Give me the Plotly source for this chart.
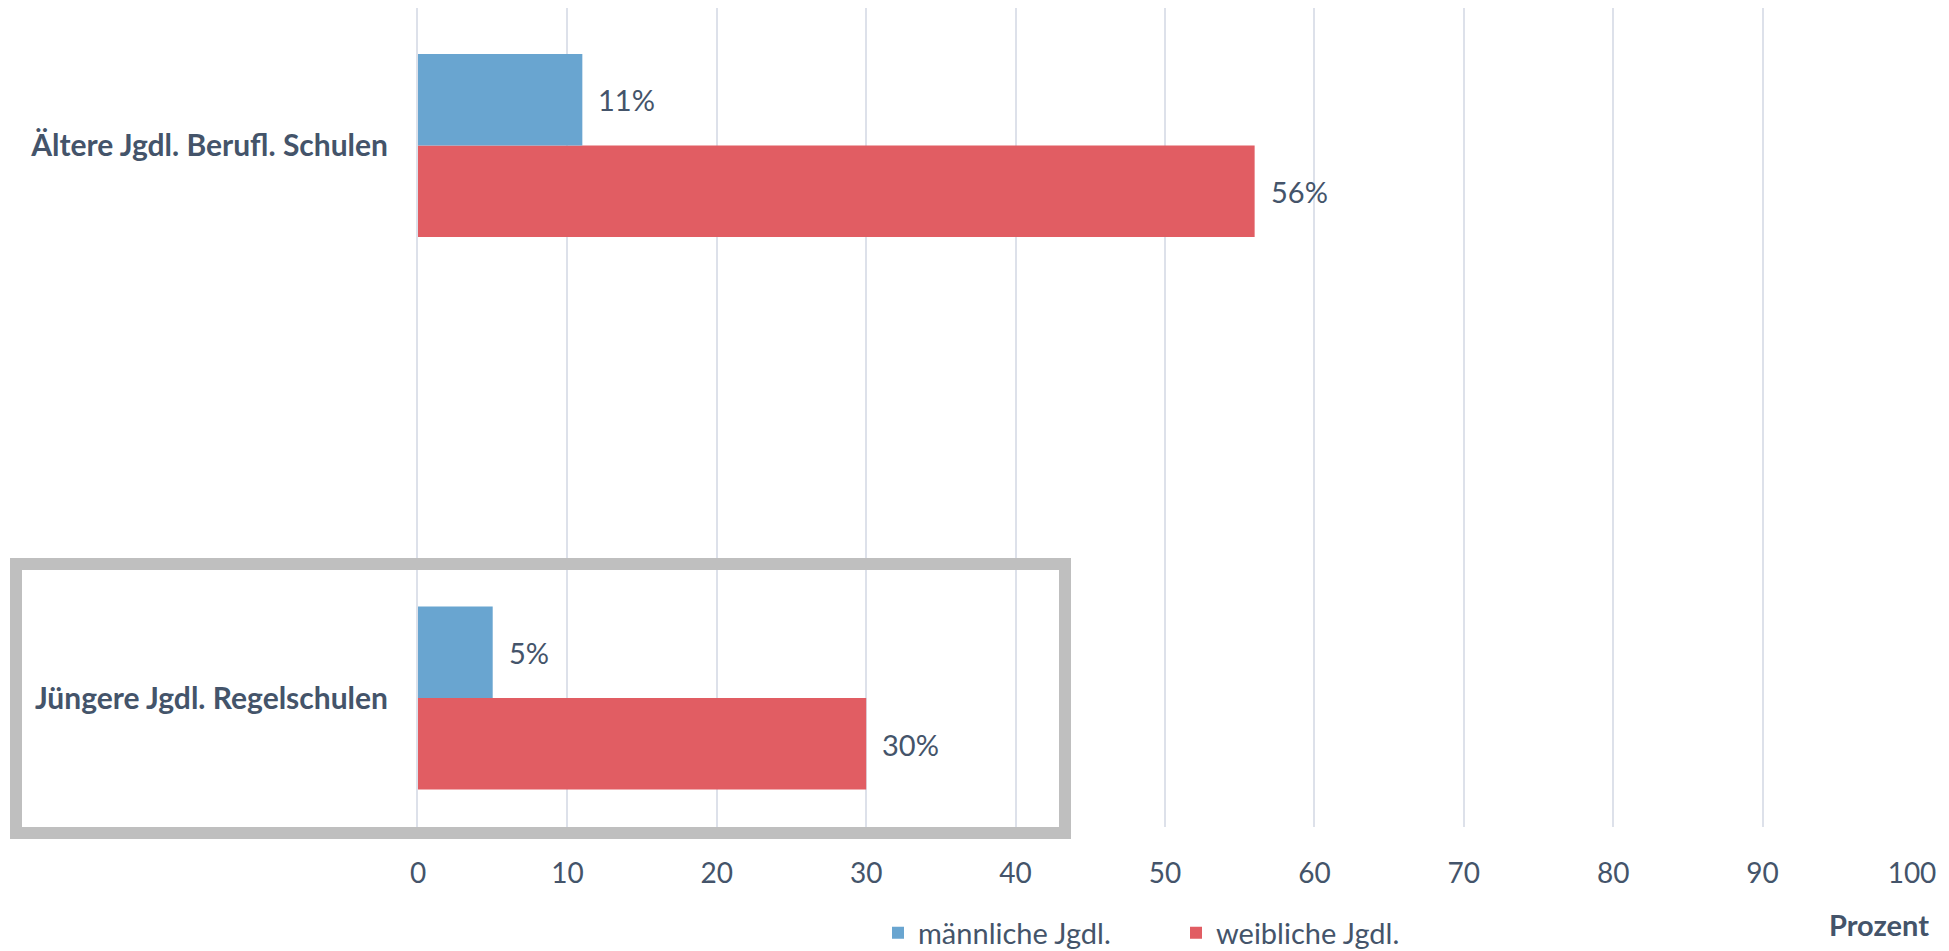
import plotly.graph_objects as go

categories = ["Jüngere Jgdl. Regelschulen", "Ältere Jgdl. Berufl. Schulen"]
series_names = ["männliche Jgdl.", "weibliche Jgdl."]
male = [5, 11]
female = [30, 56]
x_ticks = [0, 10, 20, 30, 40, 50, 60, 70, 80, 90, 100]
axis_title = "Prozent"

BLUE = "#69A5D0"
RED = "#E15D63"
TXT = "#44546A"
GRID = "#DDE1EA"
FONT = "Lato"

# the page body adds an 8px margin; the figure is sized to fit the window
OFF = 8
W, H = 1949 - OFF, 951 - OFF
ML, MR, MT, MB = 410, 37, 0, 124
pw = W - ML - MR
ph = H - MT - MB


def px(ref_x):
    return (ref_x - OFF - ML) / pw


def py(ref_y):
    return (H - MB - (ref_y - OFF)) / ph


fig = go.Figure()
fig.add_trace(go.Bar(y=categories, x=female, orientation="h", name=series_names[1],
                     marker=dict(color=RED, line=dict(width=0))))
fig.add_trace(go.Bar(y=categories, x=male, orientation="h", name=series_names[0],
                     marker=dict(color=BLUE, line=dict(width=0))))

# data labels
offset_px = 46
for vals, shift in ((male, offset_px), (female, -offset_px)):
    for c, v in zip(categories, vals):
        fig.add_annotation(x=v, y=c, text=f"{v}%", showarrow=False, xanchor="left",
                           yanchor="middle", xshift=14, yshift=shift,
                           font=dict(family=FONT, size=29, color=TXT))

fig.add_annotation(x=px(1931), y=py(924), xref="paper", yref="paper",
                   text=f"<b>{axis_title}</b>",
                   showarrow=False, xanchor="right", yanchor="middle",
                   font=dict(family=FONT, size=29, color=TXT))

fig.add_shape(type="rect", xref="paper", yref="paper",
              x0=px(16), x1=px(1065), y0=py(833), y1=py(564),
              line=dict(color="#BFBFBF", width=12), fillcolor="rgba(0,0,0,0)", layer="above")

fig.update_layout(
    width=W, height=H,
    margin=dict(l=ML, r=MR, t=MT, b=MB, pad=0, autoexpand=False),
    paper_bgcolor="white", plot_bgcolor="white",
    barmode="group", bargap=0.669, bargroupgap=0,
    showlegend=True,
    legend=dict(orientation="h", traceorder="reversed", x=px(878), xanchor="left",
                y=py(933), yanchor="middle",
                font=dict(family=FONT, size=29, color=TXT), entrywidth=253,
                bgcolor="rgba(0,0,0,0)"),
    xaxis=dict(range=[0, 100], tickvals=x_ticks, showgrid=True, gridcolor=GRID, gridwidth=2,
               zeroline=False, showline=False, ticks="outside", ticklen=21, tickcolor="white",
               automargin=False,
               tickfont=dict(family=FONT, size=28, color=TXT), fixedrange=True),
    yaxis=dict(type="category", categoryorder="array", categoryarray=categories,
               range=[-0.2334, 1.2488], showgrid=False, zeroline=False, showline=True,
               linecolor=GRID, linewidth=2, automargin=False,
               ticks="outside", ticklen=22, tickcolor="white",
               tickfont=dict(family=FONT, size=30, color=TXT, weight="bold")),
    font=dict(family=FONT, color=TXT),
)

fig.write_html("out.html")
